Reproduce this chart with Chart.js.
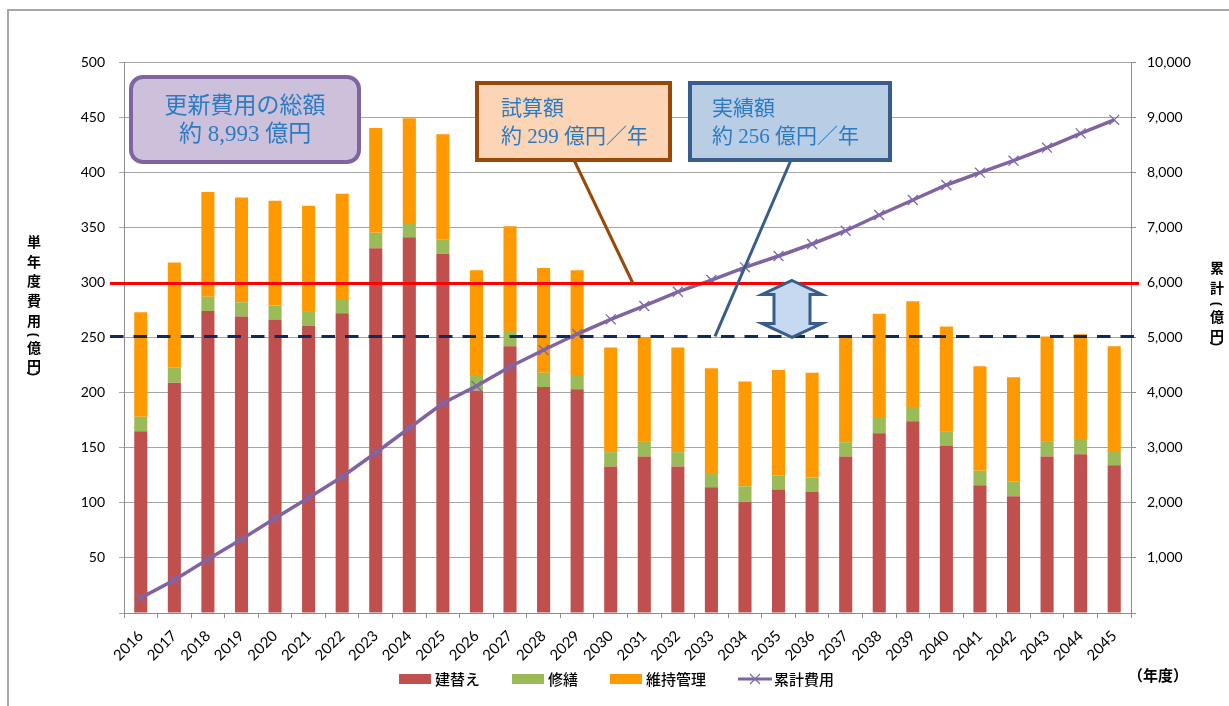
<!DOCTYPE html>
<html lang="ja">
<head>
<meta charset="utf-8">
<title>更新費用の推移</title>
<script src="https://cdn.jsdelivr.net/npm/chart.js@4.4.1/dist/chart.umd.min.js"></script>
<style>
  html, body { margin: 0; padding: 0; background: #fff; overflow: hidden; }
  canvas { display: block; }
</style>
</head>
<body>
<canvas id="chartCost" width="1229" height="706"></canvas>
<script>
// 年度
var years = ['2016', '2017', '2018', '2019', '2020', '2021', '2022', '2023', '2024', '2025',
             '2026', '2027', '2028', '2029', '2030', '2031', '2032', '2033', '2034', '2035',
             '2036', '2037', '2038', '2039', '2040', '2041', '2042', '2043', '2044', '2045'];

// 単年度費用（億円）
var rebuild = [165, 209, 274, 269, 266, 261, 272, 331, 341, 326,
               202, 242, 205, 203, 133, 142, 133, 114, 101, 112,
               110, 142, 163, 174, 152, 116, 106, 142, 144, 134];
var repair  = [13, 14, 13, 13, 13, 13, 13, 14, 13, 13,
               14, 14, 13, 13, 13, 14, 13, 13, 14, 13,
               13, 13, 14, 13, 13, 13, 13, 14, 14, 13];
var upkeep  = [95, 95, 95, 95, 95, 95.5, 95.5, 95, 95, 95.5,
               95, 95, 95, 95, 95, 94.5, 95, 95, 95, 95.5,
               95, 96, 94.5, 96, 95, 95, 95, 95, 95, 95];

// 累計費用（億円）
var cumulative = [275, 599, 974, 1337, 1718, 2093, 2474, 2909, 3357, 3806,
                  4120, 4470, 4773, 5063, 5330, 5572, 5830, 6043, 6274, 6479,
                  6697, 6938, 7223, 7495, 7768, 7991, 8209, 8445, 8706, 8950];

// 目安線（億円／年）
var trialLine = 299;
var actualLine = 251;

// 軸の目盛り
var leftMax = 500, leftStep = 50;
var rightMax = 10000, rightStep = 1000;

var boxFont = function(size) { return size + 'px "Liberation Serif", "Noto Sans CJK JP"'; };
var textBlue = '#2B7BC4';

function drawStacked(ctx, chars, x) {
    // 縦書きの軸タイトル
    ctx.font = 'bold 14px "Noto Sans CJK JP"';
    ctx.fillStyle = '#000';
    ctx.textAlign = 'center';
    ctx.textBaseline = 'middle';
    for (var i = 0; i < chars.length; i++) {
        var c = chars[i];
        if (c[0] === '(' || c[0] === ')') {
            ctx.save();
            ctx.translate(x, c[1]);
            ctx.rotate(Math.PI / 2);
            ctx.font = 'bold 13px "Liberation Sans"';
            ctx.fillText(c[0], 0, 0);
            ctx.restore();
            ctx.font = 'bold 14px "Noto Sans CJK JP"';
        } else {
            ctx.fillText(c[0], x, c[1]);
        }
    }
}

var decor = {
    id: 'decor',
    beforeDraw: function(chart) {
        var ctx = chart.ctx;
        ctx.save();
        ctx.fillStyle = '#fff';
        ctx.fillRect(0, 0, chart.width, chart.height);
        ctx.strokeStyle = '#A6A6A6';
        ctx.lineWidth = 2;
        ctx.beginPath();
        ctx.moveTo(8, chart.height);
        ctx.lineTo(8, 10);
        ctx.lineTo(chart.width, 10);
        ctx.stroke();
        ctx.restore();
    },
    afterDatasetsDraw: function(chart) {
        var ctx = chart.ctx;
        var area = chart.chartArea;
        var ys = chart.scales.y;
        var yTrial = ys.getPixelForValue(trialLine);
        var yActual = ys.getPixelForValue(actualLine);
        ctx.save();

        // 試算額の線
        ctx.strokeStyle = '#FF0000';
        ctx.lineWidth = 3;
        ctx.beginPath();
        ctx.moveTo(area.left - 14, yTrial);
        ctx.lineTo(area.right + 8, yTrial);
        ctx.stroke();

        // 実績額の線
        ctx.strokeStyle = '#10295E';
        ctx.setLineDash([13.5, 10]);
        ctx.beginPath();
        ctx.moveTo(area.left - 14, yActual);
        ctx.lineTo(area.right + 10, yActual);
        ctx.stroke();
        ctx.setLineDash([]);

        // 両矢印
        var cx = 792, top = yTrial - 3, bot = yActual + 1, hw = 30, sw = 18, hh = 14;
        ctx.beginPath();
        ctx.moveTo(cx, top);
        ctx.lineTo(cx + hw, top + hh);
        ctx.lineTo(cx + sw, top + hh);
        ctx.lineTo(cx + sw, bot - hh);
        ctx.lineTo(cx + hw, bot - hh);
        ctx.lineTo(cx, bot);
        ctx.lineTo(cx - hw, bot - hh);
        ctx.lineTo(cx - sw, bot - hh);
        ctx.lineTo(cx - sw, top + hh);
        ctx.lineTo(cx - hw, top + hh);
        ctx.closePath();
        ctx.fillStyle = '#C6D9F1';
        ctx.fill();
        ctx.strokeStyle = '#385D8A';
        ctx.lineWidth = 3;
        ctx.stroke();

        // 引き出し線
        ctx.lineWidth = 3;
        ctx.strokeStyle = '#984807';
        ctx.beginPath();
        ctx.moveTo(574, 160);
        ctx.lineTo(633, yTrial);
        ctx.stroke();
        ctx.strokeStyle = '#385D8A';
        ctx.beginPath();
        ctx.moveTo(791, 160);
        ctx.lineTo(715, yActual);
        ctx.stroke();

        // 総額の吹き出し
        ctx.lineWidth = 4;
        ctx.fillStyle = '#CCC0DA';
        ctx.strokeStyle = '#8064A2';
        ctx.beginPath();
        ctx.roundRect(131, 77, 228, 85, 12);
        ctx.fill();
        ctx.stroke();

        // 試算額の箱
        ctx.fillStyle = '#FBD5B5';
        ctx.strokeStyle = '#984807';
        ctx.beginPath();
        ctx.rect(477, 83, 193, 77);
        ctx.fill();
        ctx.stroke();

        // 実績額の箱
        ctx.fillStyle = '#B9CDE5';
        ctx.strokeStyle = '#385D8A';
        ctx.beginPath();
        ctx.rect(690, 83, 200, 77);
        ctx.fill();
        ctx.stroke();

        ctx.fillStyle = textBlue;
        ctx.textBaseline = 'middle';
        ctx.textAlign = 'center';
        ctx.font = boxFont(23);
        ctx.fillText('更新費用の総額', 245, 107);
        ctx.fillText('約 8,993 億円', 245, 135);

        ctx.textAlign = 'left';
        ctx.font = boxFont(21);
        ctx.fillText('試算額', 501, 109);
        ctx.fillText('約 299 億円／年', 501, 137);
        ctx.fillText('実績額', 712, 109);
        ctx.fillText('約 256 億円／年', 712, 137);

        // 軸タイトル
        drawStacked(ctx, [['単', 242], ['年', 262], ['度', 281], ['費', 301], ['用', 321],
                          ['(', 335], ['億', 348], ['円', 366], [')', 374]], 34);
        drawStacked(ctx, [['累', 268], ['計', 288], ['(', 304], ['億', 317], ['円', 336], [')', 344]], 1217);

        ctx.font = 'bold 15px "Noto Sans CJK JP"';
        ctx.fillStyle = '#000';
        ctx.textAlign = 'left';
        ctx.fillText('（年度）', 1128, 675);

        // 凡例
        var lx = 399, ly = 679;
        ctx.font = '500 15px "Noto Sans CJK JP"';
        chart.data.datasets.forEach(function(ds) {
            if (ds.type === 'line') {
                ctx.strokeStyle = ds.borderColor;
                ctx.lineWidth = 3;
                ctx.beginPath();
                ctx.moveTo(lx, ly);
                ctx.lineTo(lx + 34, ly);
                ctx.stroke();
                ctx.lineWidth = 1.2;
                ctx.strokeStyle = ds.pointBorderColor;
                ctx.beginPath();
                ctx.moveTo(lx + 12, ly - 5); ctx.lineTo(lx + 22, ly + 5);
                ctx.moveTo(lx + 22, ly - 5); ctx.lineTo(lx + 12, ly + 5);
                ctx.stroke();
            } else {
                ctx.fillStyle = ds.backgroundColor;
                ctx.fillRect(lx, ly - 5, 32, 10);
            }
            ctx.fillStyle = '#000';
            ctx.textAlign = 'left';
            ctx.fillText(ds.label, lx + 36, ly);
            lx += 36 + ctx.measureText(ds.label).width + 32;
        });

        ctx.restore();
    }
};

var ctx = document.getElementById('chartCost').getContext('2d');
var chart = new Chart(ctx, {
    type: 'bar',
    data: {
        labels: years,
        datasets: [{
            label: '建替え',
            data: rebuild,
            backgroundColor: '#C0504D',
            yAxisID: 'y',
            order: 1
        }, {
            label: '修繕',
            data: repair,
            backgroundColor: '#9BBB59',
            yAxisID: 'y',
            order: 1
        }, {
            label: '維持管理',
            data: upkeep,
            backgroundColor: '#FF9900',
            yAxisID: 'y',
            order: 1
        }, {
            type: 'line',
            label: '累計費用',
            data: cumulative,
            yAxisID: 'y1',
            borderColor: '#8064A2',
            borderWidth: 3.5,
            pointStyle: 'crossRot',
            pointRadius: 7,
            pointBorderColor: '#7A68B4',
            pointBorderWidth: 1.3,
            tension: 0,
            order: 0
        }]
    },
    options: {
        responsive: false,
        animation: false,
        layout: { padding: { top: 62, left: 0, right: 0, bottom: 0 } },
        datasets: { bar: { barPercentage: 0.39, categoryPercentage: 1 } },
        plugins: {
            legend: { display: false },
            tooltip: { enabled: false }
        },
        scales: {
            x: {
                stacked: true,
                grid: { offset: true, drawOnChartArea: false, tickLength: 5, color: '#8C8C8C' },
                border: { color: '#8C8C8C' },
                ticks: {
                    autoSkip: false, minRotation: 45, maxRotation: 45, padding: 9,
                    color: '#000', font: { family: 'Lato', size: 15 }
                },
                afterFit: function(s) { s.height = 93; }
            },
            y: {
                stacked: true,
                position: 'left',
                min: 0, max: leftMax,
                grid: { color: '#A6A6A6', tickLength: 5 },
                border: { color: '#8C8C8C' },
                ticks: {
                    stepSize: leftStep, padding: 14, color: '#000',
                    font: { family: 'Lato', size: 14 },
                    callback: function(v) { return v === 0 ? '' : v; }
                },
                afterFit: function(s) { s.width = 124; }
            },
            y1: {
                position: 'right',
                min: 0, max: rightMax,
                grid: { drawOnChartArea: false, tickLength: 5, color: '#8C8C8C' },
                border: { color: '#8C8C8C' },
                ticks: {
                    stepSize: rightStep, padding: 11, color: '#000',
                    font: { family: 'Lato', size: 14 },
                    callback: function(v) { return v === 0 ? '' : v.toLocaleString('en-US'); }
                },
                afterFit: function(s) { s.width = 98; }
            }
        }
    },
    plugins: [decor]
});
</script>
</body>
</html>
